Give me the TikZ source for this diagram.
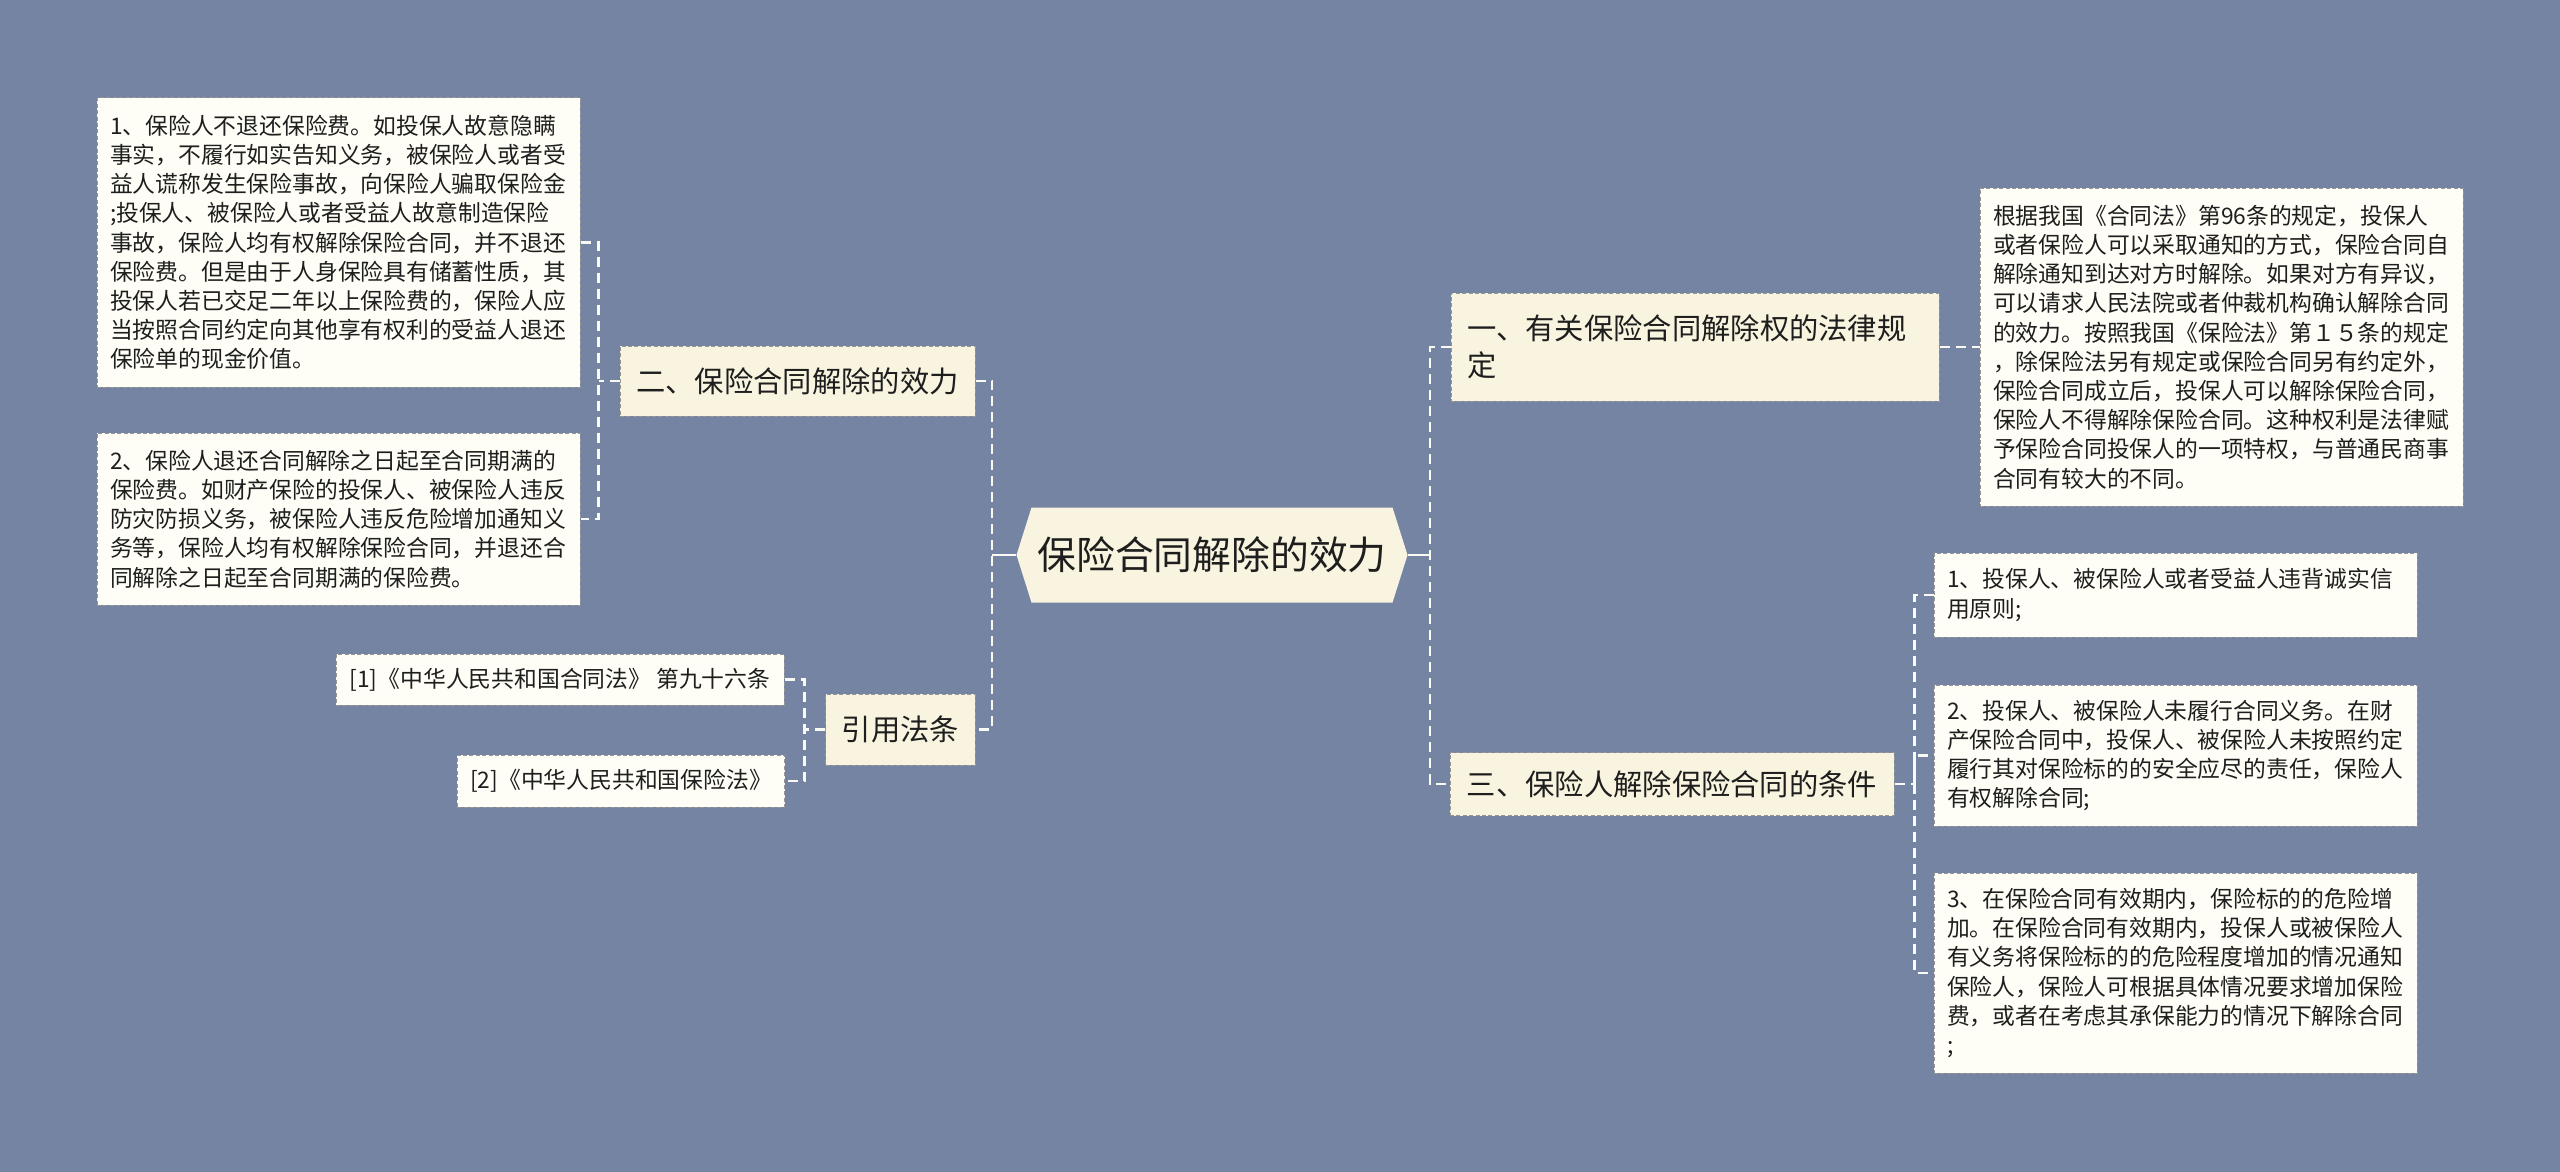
\documentclass[tikz,border=0pt]{standalone}
\usepackage{fontspec}
\usetikzlibrary{shapes.symbols}
\newfontfamily\cjk{Noto Sans CJK SC}
\definecolor{bgblue}{RGB}{117,132,163}
\definecolor{topicbg}{RGB}{248,244,223}
\definecolor{leafbg}{RGB}{254,254,246}
\definecolor{boxline}{RGB}{150,150,150}
\definecolor{linkcol}{RGB}{250,250,244}
\definecolor{txt}{RGB}{30,30,30}
\begin{document}
\begin{tikzpicture}[x=0.5pt,y=-0.5pt,
	leaf/.style={draw=boxline,dash pattern=on 2pt off 1.2pt,line width=0.5pt,fill=leafbg,text=txt,
		align=left,text width=228.5pt,inner xsep=6.5pt,inner ysep=0pt,
		font=\cjk\fontsize{11.4pt}{14.6pt}\selectfont},
	citebox/.style={leaf,text width=,align=center},
	topic/.style={draw=boxline,dash pattern=on 2pt off 1.2pt,line width=0.5pt,fill=topicbg,text=txt,
		inner xsep=8pt,inner ysep=0pt,font=\cjk\fontsize{14.65pt}{18.3pt}\selectfont},
	main/.style={shape=signal,signal to=west and east,signal pointer angle=145,fill=topicbg,text=txt,
		inner sep=0pt,font=\cjk\fontsize{19.4pt}{23pt}\selectfont},
	link/.style={draw=linkcol,line width=1.2pt,dash pattern=on 5pt off 3pt},
	stem/.style={draw=linkcol,line width=1.2pt}]
	\fill[bgblue] (0,0) rectangle (2560,1172);
	% centre
	\node[main,minimum width=195.5pt,minimum height=47.5pt] (root) at (1212,555) {保险合同解除的效力};
	% left side
	\node[topic,minimum width=177.5pt,minimum height=35pt] (b2) at (797.5,381) {二、保险合同解除的效力};
	\node[topic,minimum width=74.5pt,minimum height=35.5pt] (cite) at (900.5,729.5) {引用法条};
	\node[leaf,minimum height=144.5pt] (l1) at (338.5,242.5) {1、保险人不退还保险费。如投保人故意隐瞒\\事实，不履行如实告知义务，被保险人或者受\\益人谎称发生保险事故，向保险人骗取保险金\\;投保人、被保险人或者受益人故意制造保险\\事故，保险人均有权解除保险合同，并不退还\\保险费。但是由于人身保险具有储蓄性质，其\\投保人若已交足二年以上保险费的，保险人应\\当按照合同约定向其他享有权利的受益人退还\\保险单的现金价值。};
	\node[leaf,minimum height=86pt] (l2) at (338.5,519) {2、保险人退还合同解除之日起至合同期满的\\保险费。如财产保险的投保人、被保险人违反\\防灾防损义务，被保险人违反危险增加通知义\\务等，保险人均有权解除保险合同，并退还合\\同解除之日起至合同期满的保险费。};
	\node[citebox,minimum width=224pt,minimum height=25.5pt] (r1) at (560,679.5) {[1]《中华人民共和国合同法》 第九十六条};
	\node[citebox,minimum width=163pt,minimum height=26pt] (r2) at (621,781) {[2]《中华人民共和国保险法》};
	% right side
	\node[topic,align=left,text width=228pt,minimum height=54pt] (b1) at (1695,347) {一、有关保险合同解除权的法律规\\定};
	\node[topic,minimum width=222pt,minimum height=31.5pt] (b3) at (1672,784) {三、保险人解除保险合同的条件};
	\node[leaf,minimum height=159pt] (law) at (2221.5,347) {根据我国《合同法》第96条的规定，投保人\\或者保险人可以采取通知的方式，保险合同自\\解除通知到达对方时解除。如果对方有异议，\\可以请求人民法院或者仲裁机构确认解除合同\\的效力。按照我国《保险法》第１５条的规定\\，除保险法另有规定或保险合同另有约定外，\\保险合同成立后，投保人可以解除保险合同，\\保险人不得解除保险合同。这种权利是法律赋\\予保险合同投保人的一项特权，与普通民商事\\合同有较大的不同。};
	\node[leaf,minimum height=42pt] (c1) at (2175.5,595) {1、投保人、被保险人或者受益人违背诚实信\\用原则;};
	\node[leaf,minimum height=70.5pt] (c2) at (2175.5,755.5) {2、投保人、被保险人未履行合同义务。在财\\产保险合同中，投保人、被保险人未按照约定\\履行其对保险标的的安全应尽的责任，保险人\\有权解除合同;};
	\node[leaf,minimum height=100pt] (c3) at (2175.5,973) {3、在保险合同有效期内，保险标的的危险增\\加。在保险合同有效期内，投保人或被保险人\\有义务将保险标的的危险程度增加的情况通知\\保险人，保险人可根据具体情况要求增加保险\\费，或者在考虑其承保能力的情况下解除合同\\;};
	% connectors
	\draw[stem] (root.west) -- ++(-24,0) coordinate (jl);
	\draw[link] (b2.east) -| (jl) |- (cite.east);
	\draw[link] (b2.west) -- ++(-21,0) coordinate (jb);
	\draw[link] (l1.east) -| (jb) |- (l2.east);
	\draw[link] (cite.west) -- ++(-21,0) coordinate (jc);
	\draw[link] (r1.east) -| (jc) |- (r2.east);
	\draw[stem] (root.east) -- ++(22,0) coordinate (jr);
	\draw[link] (b1.west) -| (jr) |- (b3.west);
	\draw[link] (b1.east) -- (law.west);
	\draw[link] (b3.east) -- ++(20,0) coordinate (jd);
	\draw[link] (c1.west) -| (jd) |- (c3.west);
	\draw[link] (jd) |- (c2.west);
\end{tikzpicture}
\end{document}
